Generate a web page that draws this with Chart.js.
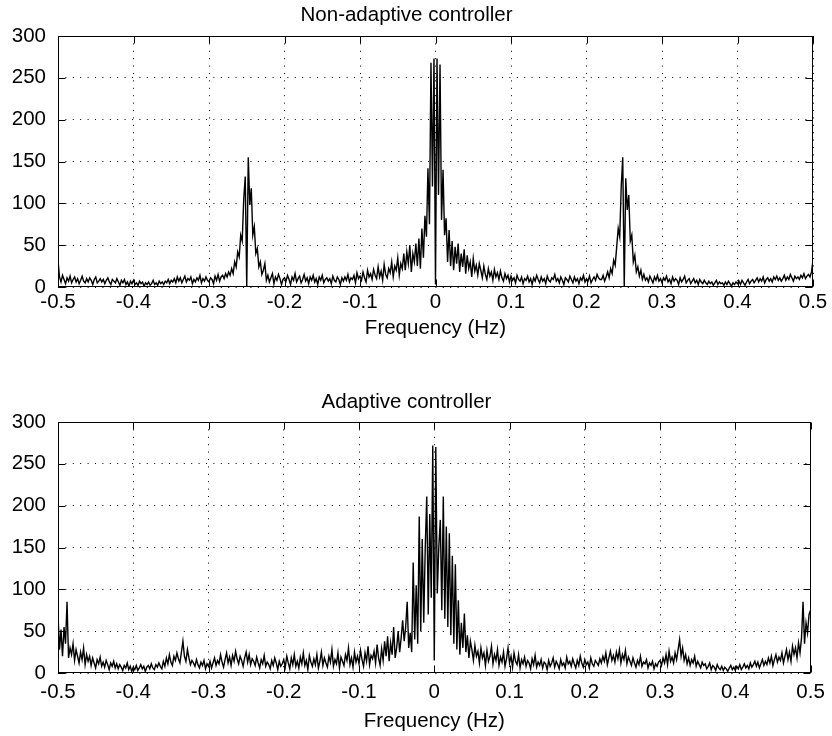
<!DOCTYPE html>
<html>
<head>
<meta charset="utf-8">
<title>Controller spectra</title>
<script src="https://cdn.jsdelivr.net/npm/chart.js@4.4.0/dist/chart.umd.min.js"></script>
<style>
  html, body { margin: 0; padding: 0; background: #fff; }
  .wrap { position: relative; width: 832px; height: 736px; }
  canvas { position: absolute; left: 0; }
  #topChart { top: 0; }
  #bottomChart { top: 368px; }
</style>
</head>
<body>
<div class="wrap">
  <canvas id="topChart" width="832" height="368"></canvas>
  <canvas id="bottomChart" width="832" height="368"></canvas>
</div>
<script>
// frequency bins: -0.5 Hz to 0.5 Hz, 0.002 Hz apart
const freqStart = -0.5;
const freqStep = 0.002;

const xTicks = [-0.5, -0.4, -0.3, -0.2, -0.1, 0, 0.1, 0.2, 0.3, 0.4, 0.5];
const yTicks = [0, 50, 100, 150, 200, 250, 300];

const nonAdaptive = [
  32, 12, 6, 14, 9, 4, 11, 7, 13, 5,
  9, 12, 6, 10, 4, 8, 13, 7, 5, 10,
  6, 11, 8, 3, 9, 12, 5, 7, 10, 6,
  9, 4, 8, 11, 6, 3, 9, 7, 5, 10,
  6, 2, 8, 5, 9, 3, 6, 1, 7, 4,
  8, 3, 5, 2, 7, 4, 6, 1, 5, 3,
  6, 2, 4, 8, 3, 5, 2, 7, 4, 6,
  3, 7, 5, 9, 4, 8, 6, 10, 5, 12,
  7, 11, 5, 9, 13, 6, 10, 8, 12, 4,
  9, 6, 11, 8, 14, 5, 10, 7, 12, 8,
  6, 11, 9, 4, 13, 8, 15, 7, 12, 14,
  10, 16, 12, 18, 14, 22, 16, 30, 24, 42,
  36, 62, 55, 105, 132, 0, 155, 98, 118, 62,
  72, 40, 46, 24, 30, 15, 20, 28, 8, 14,
  6, 11, 16, 4, 12, 8, 15, 10, 3, 9,
  11, 7, 14, 9, 3, 12, 8, 16, 6, 10,
  13, 5, 9, 15, 7, 11, 4, 12, 8, 14,
  6, 10, 3, 12, 8, 14, 5, 9, 11, 7,
  10, 4, 13, 8, 6, 12, 9, 3, 11, 7,
  12, 8, 15, 6, 11, 9, 14, 5, 17, 10,
  13, 8, 18, 11, 6, 20, 12, 16, 9, 21,
  14, 10, 24, 12, 19, 8, 27, 15, 11, 22,
  17, 30, 12, 25, 20, 35, 14, 28, 22, 40,
  20, 42, 28, 50, 18, 40, 30, 52, 25, 58,
  22, 70, 35, 85, 60, 142, 75, 268, 120, 273,
  3, 273, 110, 266, 80, 140, 62, 82, 30, 68,
  25, 55, 20, 48, 28, 52, 18, 40, 24, 45,
  16, 38, 22, 30, 12, 34, 19, 26, 14, 28,
  20, 11, 25, 15, 9, 22, 13, 18, 8, 21,
  12, 17, 9, 19, 11, 7, 16, 10, 14, 6,
  13, 8, 11, 5, 14, 9, 7, 12, 4, 10,
  8, 13, 6, 10, 3, 11, 7, 14, 9, 5,
  12, 7, 10, 4, 13, 8, 6, 11, 9, 15,
  7, 10, 5, 12, 8, 3, 11, 9, 6, 13,
  9, 5, 12, 7, 10, 4, 11, 8, 14, 6,
  10, 7, 13, 5, 9, 12, 8, 15, 11, 9,
  9, 14, 7, 12, 18, 11, 22, 16, 32, 26,
  48, 70, 60, 120, 155, 0, 130, 92, 110, 55,
  62, 30, 38, 18, 24, 13, 20, 9, 15, 8,
  11, 6, 13, 9, 5, 12, 8, 14, 7, 10,
  5, 11, 8, 13, 6, 9, 4, 12, 7, 10,
  8, 3, 11, 6, 9, 13, 5, 8, 10, 4,
  7, 10, 5, 8, 3, 9, 6, 4, 8, 5,
  3, 7, 4, 6, 2, 5, 8, 3, 6, 4,
  5, 2, 6, 3, 7, 4, 1, 5, 3, 6,
  4, 7, 3, 8, 5, 2, 6, 9, 4, 7,
  9, 5, 8, 11, 6, 10, 7, 12, 5, 9,
  11, 7, 10, 6, 12, 9, 13, 8, 11, 7,
  10, 14, 8, 12, 9, 15, 11, 7, 13, 10,
  12, 9, 14, 11, 16, 10, 13, 15, 12, 18,
  32
];

const adaptive = [
  70, 28, 52, 20, 55, 35, 85, 18, 30, 22,
  35, 15, 28, 20, 12, 25, 16, 30, 10, 22,
  14, 20, 9, 18, 12, 6, 16, 11, 19, 8,
  13, 7, 15, 10, 4, 12, 8, 14, 6, 11,
  5, 10, 7, 3, 9, 6, 12, 4, 8, 2,
  7, 4, 9, 3, 6, 10, 5, 8, 2, 7,
  9, 5, 11, 6, 4, 10, 7, 12, 8, 5,
  14, 8, 18, 11, 22, 13, 9, 20, 15, 24,
  17, 12, 25, 38, 20, 14, 28, 18, 10, 15,
  12, 8, 16, 10, 6, 13, 9, 15, 5, 11,
  8, 14, 6, 12, 18, 9, 15, 11, 22, 13,
  7, 16, 24, 12, 19, 9, 21, 14, 26, 17,
  11, 20, 15, 8, 18, 25, 13, 22, 10, 17,
  14, 9, 19, 12, 6, 16, 11, 21, 8, 13,
  10, 5, 15, 9, 18, 12, 4, 14, 8, 11,
  16, 7, 20, 12, 5, 18, 10, 22, 8, 14,
  6, 19, 11, 24, 9, 15, 4, 21, 13, 8,
  17, 10, 22, 6, 14, 25, 9, 18, 12, 7,
  20, 13, 28, 8, 16, 11, 24, 6, 19, 14,
  9, 22, 15, 30, 10, 18, 7, 25, 13, 20,
  11, 27, 16, 8, 24, 14, 32, 10, 21, 17,
  26, 12, 34, 18, 9, 29, 15, 38, 20, 44,
  14, 36, 22, 55, 18, 30, 50, 25, 42, 63,
  38, 55, 85, 30, 48, 25, 132, 40, 105, 35,
  187, 50, 160, 60, 150, 211, 70, 190, 90, 272,
  15, 270, 95, 150, 183, 75, 211, 65, 175, 55,
  167, 45, 140, 35, 130, 28, 87, 22, 60, 30,
  71, 25, 45, 18, 38, 28, 15, 33, 20, 26,
  12, 30, 18, 24, 9, 27, 14, 20, 32, 11,
  22, 15, 28, 9, 19, 13, 25, 8, 17, 30,
  12, 20, 7, 24, 14, 10, 22, 6, 16, 11,
  19, 8, 15, 12, 5, 17, 10, 21, 7, 13,
  9, 16, 6, 13, 11, 4, 15, 8, 12, 18,
  7, 14, 10, 5, 16, 9, 12, 6, 19, 11,
  14, 8, 17, 11, 6, 15, 9, 20, 12, 7,
  16, 10, 13, 6, 18, 11, 8, 15, 12, 9,
  17, 12, 20, 14, 24, 10, 18, 26, 15, 21,
  13, 25, 17, 28, 12, 22, 16, 27, 11, 19,
  14, 9, 18, 12, 7, 15, 10, 20, 8, 13,
  11, 16, 6, 12, 9, 14, 5, 11, 8, 13,
  15, 9, 18, 12, 22, 10, 26, 14, 19, 12,
  24, 16, 28, 40, 20, 30, 15, 22, 11, 18,
  9, 16, 12, 20, 8, 14, 10, 6, 13, 9,
  11, 5, 8, 12, 4, 9, 7, 3, 10, 6,
  4, 8, 3, 7, 5, 2, 6, 9, 4, 7,
  3, 8, 5, 10, 4, 7, 11, 6, 9, 5,
  12, 7, 10, 14, 8, 13, 6, 11, 16, 9,
  14, 10, 18, 12, 20, 9, 16, 22, 13, 19,
  15, 24, 12, 20, 28, 16, 25, 14, 32, 22,
  30, 18, 36, 24, 42, 85, 35, 60, 48, 70,
  75
];

const freqs = nonAdaptive.map((_, i) => +(freqStart + i * freqStep).toFixed(3));

const fontFamily = "'Liberation Sans', Arial, Helvetica, sans-serif";
const labelFont = { family: fontFamily, size: 20.5, weight: 'normal' };

// matlab style box with inward tick marks on all four sides
const boxFrame = {
    id: 'boxFrame',
    afterDatasetsDraw(chart) {
        const { ctx, chartArea: a, scales: { x, y } } = chart;
        const l = Math.round(a.left) + 0.5;
        const r = Math.round(a.right) - 0.5;
        const t = Math.round(a.top) + 0.5;
        const b = Math.round(a.bottom) - 0.5;
        ctx.save();
        ctx.strokeStyle = '#000';
        ctx.lineWidth = 1;
        ctx.strokeRect(l, t, r - l, b - t);
        ctx.beginPath();
        xTicks.forEach(v => {
            const px = Math.round(x.getPixelForValue(v)) + 0.5;
            ctx.moveTo(px, b); ctx.lineTo(px, b - 7);
            ctx.moveTo(px, t); ctx.lineTo(px, t + 7);
        });
        yTicks.forEach(v => {
            const py = Math.round(y.getPixelForValue(v)) + 0.5;
            ctx.moveTo(l, py); ctx.lineTo(l + 7, py);
            ctx.moveTo(r, py); ctx.lineTo(r - 7, py);
        });
        ctx.stroke();
        ctx.restore();
    }
};

function makeChart(id, title, values, box) {
    const points = values.map((v, i) => ({ x: freqs[i], y: v }));
    return new Chart(document.getElementById(id), {
        type: 'line',
        data: {
            datasets: [{
                data: points,
                borderColor: '#000',
                borderWidth: 1.4,
                pointRadius: 0,
                tension: 0,
                fill: false
            }]
        },
        options: {
            responsive: false,
            animation: false,
            events: [],
            layout: { padding: { left: 0, right: 19, top: 0, bottom: 0 } },
            plugins: {
                legend: { display: false },
                tooltip: { enabled: false },
                title: {
                    display: true,
                    text: title,
                    color: '#000',
                    font: labelFont,
                    padding: { top: box.titleTop, bottom: box.titleBottom }
                }
            },
            scales: {
                x: {
                    type: 'linear',
                    min: -0.5,
                    max: 0.5,
                    afterBuildTicks: s => { s.ticks = xTicks.map(v => ({ value: v })); },
                    afterFit: s => { s.height = box.xHeight; },
                    ticks: {
                        color: '#000',
                        font: labelFont,
                        padding: box.xTickPad,
                        maxRotation: 0,
                        callback: v => String(v)
                    },
                    grid: { color: '#000', lineWidth: 1, drawTicks: false },
                    border: { display: false, dash: [1, 6.4] },
                    title: {
                        display: true,
                        text: 'Frequency (Hz)',
                        color: '#000',
                        font: labelFont,
                        padding: { top: 0, bottom: box.xTitlePad }
                    }
                },
                y: {
                    min: 0,
                    max: 300,
                    afterBuildTicks: s => { s.ticks = yTicks.map(v => ({ value: v })); },
                    afterFit: s => { s.width = 58; },
                    ticks: {
                        color: '#000',
                        font: labelFont,
                        padding: 12,
                        callback: v => String(v)
                    },
                    grid: { color: '#000', lineWidth: 1, drawTicks: false },
                    border: { display: false, dash: [1, 6.4] }
                }
            }
        },
        plugins: [boxFrame]
    });
}

makeChart('topChart', 'Non-adaptive controller', nonAdaptive, {
    titleTop: 3.2, titleBottom: 8.2, xHeight: 81, xTickPad: 2.7, xTitlePad: 27.7
});
makeChart('bottomChart', 'Adaptive controller', adaptive, {
    titleTop: 21.7, titleBottom: 7.7, xHeight: 63, xTickPad: 7.2, xTitlePad: 2.7
});
</script>
</body>
</html>
